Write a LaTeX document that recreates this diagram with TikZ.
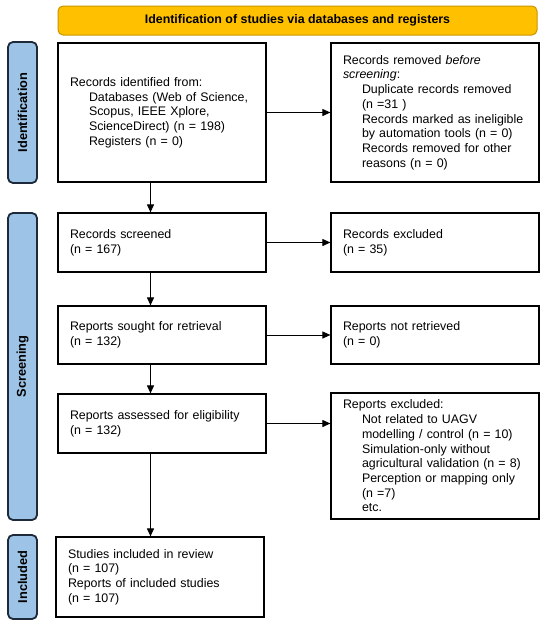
\documentclass[tikz,border=0pt]{standalone}
\usepackage{fontspec}
\setmainfont{Liberation Sans}
\usetikzlibrary{arrows.meta}
\definecolor{hdrfill}{HTML}{FFC000}
\definecolor{hdrdraw}{HTML}{C89600}
\definecolor{barfill}{HTML}{9DC3E6}
\definecolor{bardraw}{HTML}{1E2A3A}
\newcommand{\ind}{\hspace*{19pt}}
\begin{document}
\begin{tikzpicture}[x=1pt,y=-1pt,
  pbox/.style={draw=black, line width=1.2pt, fill=white, rectangle, inner xsep=12pt, inner ysep=0pt,
    text width=184pt, minimum width=208pt, align=left, font=\fontsize{12.4}{14.7}\selectfont},
  bar/.style={draw=bardraw, fill=barfill, line width=1.8pt, rounded corners=5pt, rotate=90,
    minimum height=29pt, inner sep=0pt, font=\bfseries\fontsize{12.8}{15}\selectfont},
  hdr/.style={draw=hdrdraw, fill=hdrfill, line width=1pt, rounded corners=5pt, minimum width=479pt,
    minimum height=29pt, inner sep=0pt, font=\bfseries\fontsize{12.4}{15}\selectfont},
  arr/.style={-{Triangle[length=8pt,width=7pt]}, line width=1pt, draw=black}
]
\useasboundingbox[fill=white] (0,0) rectangle (550,627);

\node[hdr] (hdr) at (297.5,20.5) {Identification of studies via databases and registers};

\node[bar, minimum width=141pt] (bid) at (22.5,112.5) {Identification};
\node[bar, minimum width=307pt] (bsc) at (22.5,366.5) {Screening};
\node[bar, minimum width=84pt] (bin) at (22.5,577) {Included};

\node[pbox, minimum height=139pt] (b1) at (162,112.5) {Records identified from:\\
\ind Databases (Web of Science,\\
\ind Scopus, IEEE Xplore,\\
\ind ScienceDirect) (n = 198)\\
\ind Registers (n = 0)};

\node[pbox, minimum height=139pt] (r1) at (435,112.5) {Records removed \textit{before}\\
\textit{screening}:\\
\ind Duplicate records removed\\
\ind (n =31 )\\
\ind Records marked as ineligible\\
\ind by automation tools (n = 0)\\
\ind Records removed for other\\
\ind reasons (n = 0)};

\node[pbox, minimum height=59pt] (scr) at (162,242.5) {Records screened\\(n = 167)};
\node[pbox, minimum height=59pt] (exc) at (435,242.5) {Records excluded\\(n = 35)};

\node[pbox, minimum height=58pt] (sou) at (162,335) {Reports sought for retrieval\\(n = 132)};
\node[pbox, minimum height=58pt] (nre) at (435,335) {Reports not retrieved\\(n = 0)};

\node[pbox, minimum height=59pt] (ass) at (162,423.5) {Reports assessed for eligibility\\(n = 132)};
\node[pbox, minimum height=126pt] (rex) at (435,456) {Reports excluded:\\
\ind Not related to UAGV\\
\ind modelling / control (n = 10)\\
\ind Simulation-only without\\
\ind agricultural validation (n = 8)\\
\ind Perception or mapping only\\
\ind (n =7)\\
\ind etc.};

\node[pbox, minimum height=80pt] (inc) at (160,577) {Studies included in review\\
(n = 107)\\
Reports of included studies\\
(n = 107)};

\coordinate (vx) at (150.5,0);

\draw[arr] (b1.east) -- (r1.west);
\draw[arr] (scr.east) -- (exc.west);
\draw[arr] (sou.east) -- (nre.west);
\draw[arr] (ass.east) -- (ass.east -| rex.west);

\draw[arr] (b1.south -| vx) -- (scr.north -| vx);
\draw[arr] (scr.south -| vx) -- (sou.north -| vx);
\draw[arr] (sou.south -| vx) -- (ass.north -| vx);
\draw[arr] (ass.south -| vx) -- (inc.north -| vx);
\end{tikzpicture}
\end{document}
